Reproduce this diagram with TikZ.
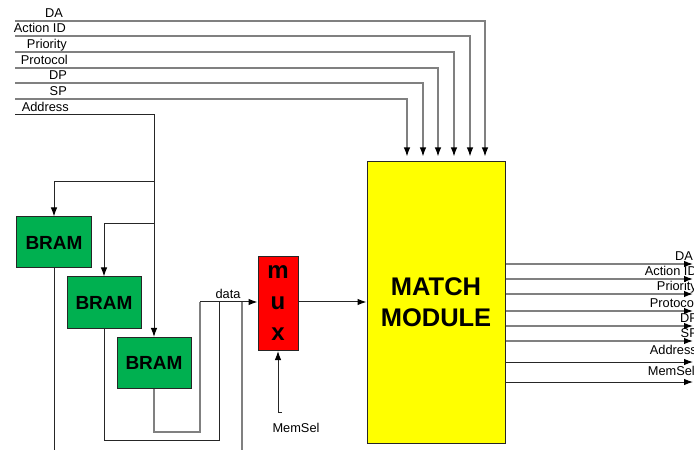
\documentclass[tikz,border=0pt]{standalone}
\usepackage{fontspec}
\setmainfont{Liberation Sans}
\usetikzlibrary{arrows.meta}
\definecolor{bramgreen}{HTML}{00B050}
\definecolor{muxred}{HTML}{FF0000}
\definecolor{matchyellow}{HTML}{FFFF00}
\definecolor{wiregray}{HTML}{808080}
\definecolor{wireblack}{HTML}{262626}
\tikzset{
  wire/.style={draw=wireblack,line width=1bp},
  bus/.style={draw=wiregray,line width=1.2bp},
  tip/.style={-{Latex[length=9bp,width=6.5bp,color=black]}},
  block/.style={draw=wireblack,line width=1bp,inner sep=0pt,align=center},
  bram/.style={block,fill=bramgreen,minimum width=74bp,minimum height=51bp,font=\fontsize{19bp}{22bp}\selectfont\bfseries},
  sig/.style={font=\fontsize{12.8bp}{14bp}\selectfont,inner sep=0pt}
}

\begin{document}
\begin{tikzpicture}[x=1bp,y=-1bp]
\useasboundingbox (0,0) rectangle (694,450);
% memories, mux and the match block
\node[bram] (bram1) at (54,242.5) {BRAM};
\node[bram] (bram2) at (104,302.5) {BRAM};
\node[bram] (bram3) at (154,363) {BRAM};
\node[block,fill=muxred,minimum width=40bp,minimum height=94bp,font=\fontsize{24bp}{31bp}\selectfont\bfseries] (mux) at (278,303.5) {m\\u\\x};
\node[block,fill=matchyellow,minimum width=138bp,minimum height=281bp,font=\fontsize{25.5bp}{31bp}\selectfont\bfseries] (match) at (436,302.5) {MATCH\\MODULE};
% header fields come in from the top
\foreach \name/\y/\xr/\xd [count=\i] in {DA/21/63/485,Action ID/36/66/470,Priority/52/67/454,Protocol/68/68/438,DP/83/67/423,SP/99/67/407}{
  \node[sig,anchor=base east] (in\i) at (\xr,\y-3.5) {\name};
  \coordinate (src\i) at (15,\y);
  \draw[bus,tip,shorten >=5bp] (src\i) -| (match.north -| \xd,0);
}
% address fans out to the three memories
\node[sig,anchor=base east] (inaddr) at (69,111.5) {Address};
\coordinate (addr) at (15,115);
\coordinate (br1) at (154,182);
\coordinate (br2) at (154,224);
\draw[wire,tip] (addr) -| (bram3.north);
\draw[wire,tip] (br1) -| (bram1.north);
\draw[wire,tip] (br2) -| (bram2.north);
% read data back into the mux
\coordinate (d1) at (200,302);
\coordinate (d2) at (219.5,302);
\coordinate (d3) at (242,302);
\draw[bus] (bram3.south) -- ++(0,43) -| (d1);
\draw[wire] (bram2.south) -- ++(0,112) -| (d2);
\draw[wire] (bram1.south) -- ++(0,200);
\draw[bus] (d3) -- ++(0,160);
\draw[wire,tip] (d1) -- (mux.west |- d1);
\node[sig,anchor=base] (datalbl) at (228,298.5) {data};
% select line
\coordinate (sel) at (282,412);
\draw[wire,tip] (sel) -| (mux.south);
\node[sig] (sellbl) at (296,428) {MemSel};
\draw[wire,tip] (mux.east |- d1) -- (match.west |- d1);
% fields out on the right
\foreach \name/\y/\yl/\xr/\sty [count=\i] in {DA/264/260.5/693/bus,Action ID/279/275.5/697/bus,Priority/294/290.5/697/bus,Protocol/311/307.5/697/bus,DP/326/322.5/698/bus,SP/341/337.5/698/bus,Address/362/354/697/wire,MemSel/382/375.5/695/wire}{
  \coordinate (dst\i) at (693,\y);
  \draw[\sty,tip] (match.east |- dst\i) -- (dst\i);
  \node[sig,anchor=base east] (out\i) at (\xr,\yl) {\name};
}
\end{tikzpicture}
\end{document}
